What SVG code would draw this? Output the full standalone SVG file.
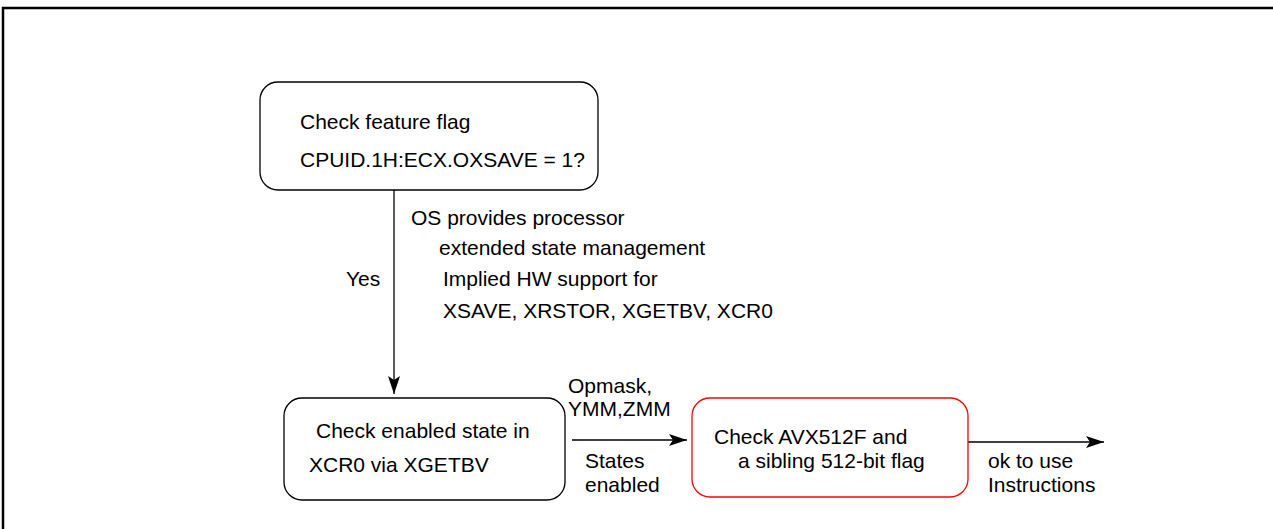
<svg xmlns="http://www.w3.org/2000/svg" width="1273" height="529" viewBox="0 0 1273 529">
<defs>
<style>
text{font-family:"Liberation Sans",Arial,Helvetica,sans-serif;font-size:21px;fill:#000}
.box{fill:#fff;stroke:#000;stroke-width:1.3}
.red{fill:#fff;stroke:#ff0000;stroke-width:1.3}
.line{stroke:#000;stroke-width:1.3;fill:none}
</style>
<marker id="ah" viewBox="0 0 18 12" refX="18" refY="6" markerWidth="18" markerHeight="12" markerUnits="userSpaceOnUse" orient="auto">
<path d="M0,0 L18,6 L0,12 L4,6 Z" fill="#000"/>
</marker>
</defs>
<rect width="1273" height="529" fill="#fff"/>
<g id="frame">
<path d="M3,529 L3,8 L1273,8" fill="none" stroke="#000" stroke-width="2.5"/>
</g>
<g id="connectors">
<line class="line" x1="394" y1="190" x2="394" y2="394" marker-end="url(#ah)"/>
<line class="line" x1="572" y1="440" x2="687" y2="440" marker-end="url(#ah)"/>
<line class="line" x1="968" y1="442" x2="1104" y2="442" marker-end="url(#ah)"/>
<text x="346" y="286">Yes</text>
<text x="411" y="225">OS provides processor</text>
<text x="439" y="255">extended state management</text>
<text x="443" y="286">Implied HW support for</text>
<text x="443" y="318">XSAVE, XRSTOR, XGETBV, XCR0</text>
<text x="568" y="393">Opmask,</text>
<text x="568" y="416">YMM,ZMM</text>
<text x="585" y="468">States</text>
<text x="585" y="492">enabled</text>
<text x="988" y="468">ok to use</text>
<text x="988" y="492">Instructions</text>
</g>
<g id="node-check-feature">
<rect class="box" x="260" y="82" width="338" height="108" rx="18"/>
<text x="300" y="129">Check feature flag</text>
<text x="300" y="167">CPUID.1H:ECX.OXSAVE = 1?</text>
</g>
<g id="node-check-enabled">
<rect class="box" x="284" y="398" width="281" height="102" rx="18"/>
<text x="316" y="438">Check enabled state in</text>
<text x="309" y="472">XCR0 via XGETBV</text>
</g>
<g id="node-check-avx512">
<rect class="red" x="692" y="398" width="276" height="99" rx="18"/>
<text x="714" y="444">Check AVX512F and</text>
<text x="738" y="468">a sibling 512-bit flag</text>
</g>
</svg>
